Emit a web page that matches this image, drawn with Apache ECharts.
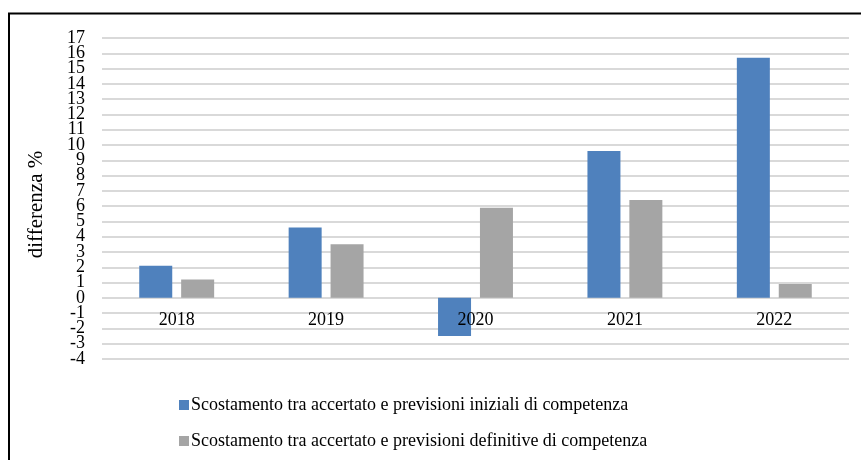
<!DOCTYPE html>
<html>
<head>
<meta charset="utf-8">
<script src="https://cdn.jsdelivr.net/npm/echarts@6/dist/echarts.min.js"></script>
<style>html,body{margin:0;padding:0;background:#fff;}#c{width:861px;height:460px;}</style>
</head>
<body>
<div id="c"></div>
<script>
const categories = ['2018', '2019', '2020', '2021', '2022'];
const seriesNames = [
  'Scostamento tra accertato e previsioni iniziali di competenza',
  'Scostamento tra accertato e previsioni definitive di competenza'
];
const iniziali = [2.1, 4.6, -2.5, 9.6, 15.7];
const definitive = [1.2, 3.5, 5.9, 6.4, 0.9];
const yTicks = [-4, 17, 1];

const font = 'Liberation Serif, Times New Roman, serif';
const labelStyle = { fontFamily: font, fontSize: 18, color: '#000', margin: 17, hideOverlap: false };
const chart = echarts.init(document.getElementById('c'));
chart.setOption({
  animation: false,
  backgroundColor: '#fff',
  textStyle: { fontFamily: font },
  graphic: [
    { type: 'line', shape: { x1: 8, y1: 13.5, x2: 861, y2: 13.5 }, style: { stroke: '#000', lineWidth: 2 } },
    { type: 'line', shape: { x1: 9, y1: 13, x2: 9, y2: 460 }, style: { stroke: '#000', lineWidth: 2 } }
  ],
  grid: { left: 102, right: 12, top: 38, bottom: 101, containLabel: false },
  legend: {
    orient: 'vertical',
    left: 174,
    top: 391,
    itemWidth: 10,
    itemHeight: 10,
    itemGap: 18,
    icon: 'rect',
    textStyle: { fontFamily: font, fontSize: 18, color: '#000', padding: [0, 0, 0, -3] },
    data: seriesNames
  },
  xAxis: {
    type: 'category',
    data: categories,
    offset: -61,
    z: 5,
    axisLine: { show: false },
    axisTick: { show: false },
    axisLabel: { fontFamily: font, fontSize: 18, color: '#000', margin: 13 }
  },
  yAxis: [
    {
      type: 'value',
      position: 'left',
      min: yTicks[0],
      max: yTicks[1],
      interval: yTicks[2],
      name: 'differenza %',
      nameLocation: 'middle',
      nameGap: 55,
      nameRotate: 90,
      nameTextStyle: { fontFamily: font, fontSize: 21, color: '#000', padding: [0, 12, 0, 0] },
      axisLine: { show: false },
      axisTick: { show: false },
      axisLabel: labelStyle,
      splitLine: { lineStyle: { color: '#d9d9d9', width: 2 } }
    },
    {
      type: 'value',
      position: 'left',
      min: yTicks[0],
      max: yTicks[1],
      interval: yTicks[2],
      axisLine: { show: false },
      axisTick: { show: false },
      splitLine: { show: false },
      axisLabel: Object.assign({}, labelStyle, {
        showMinLabel: true, showMaxLabel: true,
        formatter: v => (v === yTicks[0] || v === yTicks[1]) ? String(v) : ''
      })
    }
  ],
  series: [
    { name: seriesNames[0], type: 'bar', data: iniziali, barWidth: 33, barGap: '27%', itemStyle: { color: '#4f81bd' } },
    { name: seriesNames[1], type: 'bar', data: definitive, barWidth: 33, barGap: '27%', itemStyle: { color: '#a5a5a5' } }
  ]
});
</script>
</body>
</html>
